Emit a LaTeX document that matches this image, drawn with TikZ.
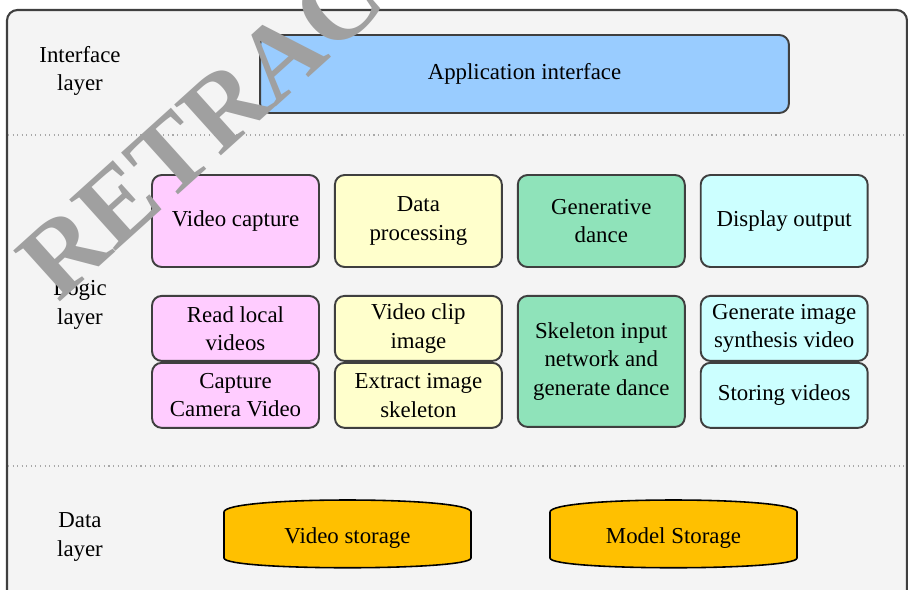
\documentclass[tikz,border=0pt]{standalone}
\usepackage{fontspec}
\setmainfont{Liberation Serif}
\usetikzlibrary{positioning}
\definecolor{lframe}{HTML}{3F3F3F}
\definecolor{lback}{HTML}{F4F4F4}
\definecolor{lsep}{HTML}{A8A8A8}
\definecolor{cblue}{HTML}{99CCFF}
\definecolor{cpink}{HTML}{FFCCFF}
\definecolor{cyell}{HTML}{FFFFCC}
\definecolor{cgreen}{HTML}{8FE3BA}
\definecolor{ccyan}{HTML}{CCFFFF}
\definecolor{cstore}{HTML}{FFC000}
\definecolor{cmark}{HTML}{A0A0A0}
\tikzset{
  lbl/.style     ={font=\fontsize{13}{16.2}\selectfont, align=center},
  box/.style     ={lbl, rounded corners=5.5pt, draw=lframe, line width=1.1pt,
                   minimum width=3.34cm, minimum height=1.84cm, inner sep=1pt},
  halfbox/.style ={box, minimum height=1.3cm},
  sepline/.style ={draw=lsep, dotted, line width=0.6pt},
  store/.style   ={draw=black, line width=0.9pt, fill=cstore},
}
\begin{document}
\begin{tikzpicture}[x=0.02cm, y=-0.02cm]
  \useasboundingbox (0,0) rectangle (908,589);
  \clip (0,0) rectangle (908,589);
  \draw[draw=lframe, fill=lback, line width=1.2pt, rounded corners=6pt] (7,10) rectangle (907,640);
  \draw[sepline] (8,135) -- (908,135);
  \draw[sepline] (8,466) -- (908,466);

  \node[lbl] (ilay) at (80,71)  {Interface\\layer};
  \node[lbl] (llay) at (80,305) {Logic\\layer};
  \node[lbl] (dlay) at (80,537) {Data\\layer};

  \node[box, fill=cblue, minimum width=10.58cm, minimum height=1.56cm] (app) at (524.5,74) {Application interface};

  \node[box, fill=cpink] (vcap) at (235.5,221) {Video capture};
  \node[box, fill=cyell,  right=2.8mm of vcap]   (dproc)  {Data\\processing};
  \node[box, fill=cgreen, right=2.8mm of dproc]  (gdance) {Generative\\dance};
  \node[box, fill=ccyan,  right=2.8mm of gdance] (dout)   {Display output};

  \node[halfbox, fill=cpink, below=5.4mm of vcap]  (rlocal) {Read local\\videos};
  \node[halfbox, fill=cpink, below=0pt of rlocal]  (ccam)   {Capture\\Camera Video};
  \node[halfbox, fill=cyell, below=5.4mm of dproc] (vclip)  {Video clip\\image};
  \node[halfbox, fill=cyell, below=0pt of vclip]   (eskel)  {Extract image\\skeleton};
  \node[box, fill=cgreen, minimum height=2.62cm, below=5.4mm of gdance] (skel) {Skeleton input\\network and\\generate dance};
  \node[halfbox, fill=ccyan, below=5.4mm of dout]  (gsyn)   {Generate image\\synthesis video};
  \node[halfbox, fill=ccyan, below=0pt of gsyn]    (svid)   {Storing videos};

  \foreach \nm/\cx/\txt in {vstore/347.5/Video storage, mstore/673.5/Model Storage} {
    \path[store] (\cx-123.5,512) .. controls (\cx-123.5,496) and (\cx+123.5,496) .. (\cx+123.5,512)
      -- (\cx+123.5,558) .. controls (\cx+123.5,571) and (\cx-123.5,571) .. (\cx-123.5,558) -- cycle;
    \node[lbl] (\nm) at (\cx,538) {\txt};
  }

  \node[font=\fontsize{60}{60}\selectfont\bfseries, text=cmark, rotate=42] (mark) at (281,56) {RETRACTED};
\end{tikzpicture}
\end{document}
